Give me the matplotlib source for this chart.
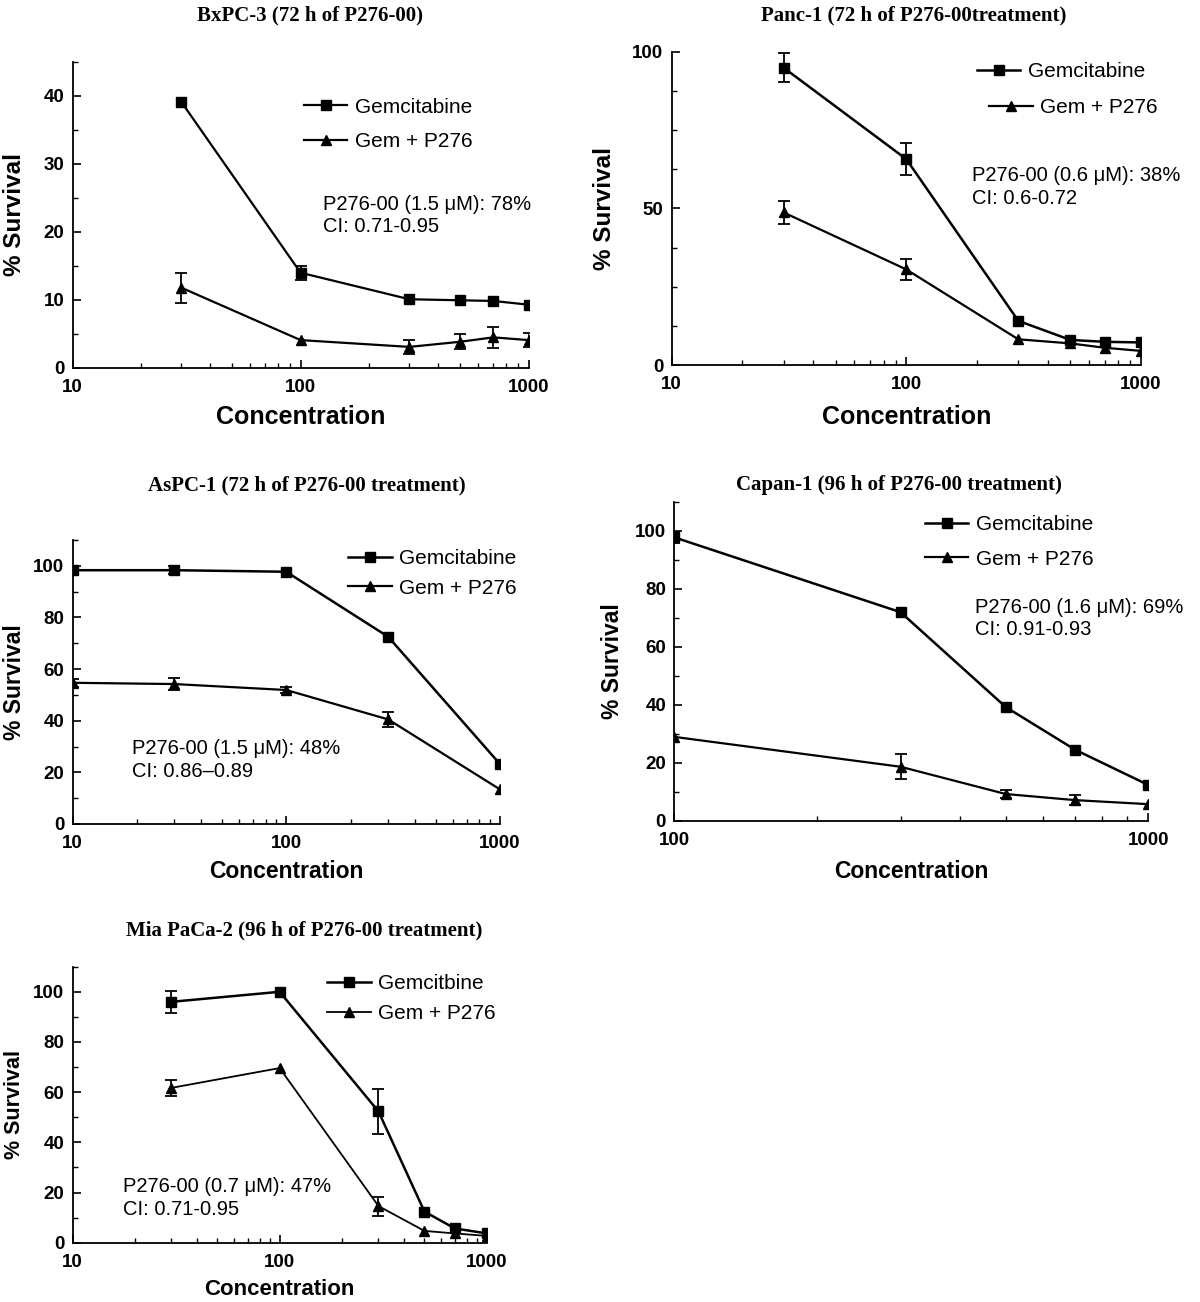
import numpy as np
import matplotlib
matplotlib.use("Agg")
import matplotlib.pyplot as plt
from matplotlib.ticker import FixedLocator, LogLocator, MultipleLocator, NullFormatter

plt.rcParams['font.family'] = ['Liberation Sans', 'DejaVu Sans']

# BxPC-3
bx_conc = [30, 100, 300, 500, 700, 1000]
bx_gem = [39.1, 14.0, 10.1, 9.95, 9.85, 9.3]
bx_gem_err = [0, 1.0, 0, 0, 0, 0]
bx_comb = [11.8, 4.1, 3.1, 3.85, 4.5, 4.1]
bx_comb_err = [2.2, 0, 1.05, 1.1, 1.55, 1.0]

# Panc-1
panc_conc = [30, 100, 300, 500, 700, 1000]
panc_gem = [94.9, 65.7, 14.1, 8.0, 7.4, 7.2]
panc_gem_err = [4.6, 5.0, 0, 0, 0, 0]
panc_comb = [48.7, 30.5, 8.2, 6.9, 5.5, 4.5]
panc_comb_err = [3.6, 3.4, 0, 0, 0, 0]

# AsPC-1
aspc_conc = [10, 30, 100, 300, 1000]
aspc_gem = [98.3, 98.3, 97.7, 72.5, 23.2]
aspc_gem_err = [1.5, 1.5, 0, 0, 0]
aspc_comb = [54.7, 54.2, 51.9, 40.5, 13.4]
aspc_comb_err = [1.5, 2.4, 1.0, 3.0, 0]

# Capan-1
capan_conc = [100, 300, 500, 700, 1000]
capan_gem = [97.7, 71.9, 39.2, 24.5, 12.3]
capan_gem_err = [2.0, 0, 0, 0, 0]
capan_comb = [28.9, 18.6, 9.2, 7.1, 5.7]
capan_comb_err = [0, 4.3, 1.5, 1.7, 0]

# Mia PaCa-2
mia_conc = [30, 100, 300, 500, 700, 1000]
mia_gem = [96.0, 100.0, 52.3, 12.4, 5.7, 3.7]
mia_gem_err = [4.3, 0, 9.0, 0, 0, 0]
mia_comb = [61.7, 69.6, 14.6, 4.7, 3.7, 2.7]
mia_comb_err = [3.3, 0, 3.8, 0, 0, 0]

titles = ["BxPC-3 (72 h of P276-00)",
          "Panc-1 (72 h of P276-00treatment)",
          "AsPC-1 (72 h of P276-00 treatment)",
          "Capan-1 (96 h of P276-00 treatment)",
          "Mia PaCa-2 (96 h of P276-00 treatment)"]
notes = ["P276-00 (1.5 \u03bcM): 78%\nCI: 0.71-0.95",
         "P276-00 (0.6 \u03bcM): 38%\nCI: 0.6-0.72",
         "P276-00 (1.5 \u03bcM): 48%\nCI: 0.86\u20130.89",
         "P276-00 (1.6 \u03bcM): 69%\nCI: 0.91-0.93",
         "P276-00 (0.7 \u03bcM): 47%\nCI: 0.71-0.95"]
gem_names = ["Gemcitabine", "Gemcitabine", "Gemcitabine", "Gemcitabine", "Gemcitbine"]
comb_name = "Gem + P276"

W, H = 1200, 1302
fig = plt.figure(figsize=(W / 100, H / 100), dpi=100)


def px_axes(left, right, top, bottom):
    return fig.add_axes([left / W, 1 - bottom / H, (right - left) / W, (bottom - top) / H])


def errs(conc, vals, err):
    conc, vals, err = np.array(conc), np.array(vals), np.array(err)
    m = err > 0
    return conc[m], vals[m], err[m]


def draw_panel(ax, p, gem_name):
    gem_line, = ax.plot(p['conc'], p['gem'], color='black', lw=p.get('gem_lw', 1.6),
                        marker='s', ms=7, label=gem_name)
    comb_line, = ax.plot(p['conc'], p['comb'], color='black', lw=p.get('comb_lw', 1.6),
                         marker='^', ms=7.5, label=comb_name)
    for c, v, e in (errs(p['conc'], p['gem'], p['gem_err']),
                    errs(p['conc'], p['comb'], p['comb_err'])):
        if len(c):
            ax.errorbar(c, v, yerr=e, fmt='none', ecolor='black', elinewidth=1.3,
                        capsize=4, capthick=1.3)
    xlim = p['xlim']
    ax.set_xscale('log')
    ax.set_xlim(*xlim)
    ax.set_ylim(*p['ylim'])
    majors = [t for t in (10, 100, 1000) if xlim[0] <= t <= xlim[1]]
    ax.xaxis.set_major_locator(FixedLocator(majors))
    ax.set_xticklabels([str(t) for t in majors])
    ax.xaxis.set_minor_locator(LogLocator(base=10, subs=np.arange(2, 10)))
    ax.xaxis.set_minor_formatter(NullFormatter())
    ax.yaxis.set_major_locator(FixedLocator(p['ymaj']))
    ax.yaxis.set_minor_locator(MultipleLocator(p['ymin_step']))
    ax.tick_params(axis='x', which='major', direction='in', length=6, width=1.2,
                   labelsize=13.5, pad=8)
    ax.tick_params(axis='y', which='major', direction='in', length=6, width=1.2,
                   labelsize=13.5, pad=6)
    ax.tick_params(axis='both', which='minor', direction='in', length=3.5, width=1.0)
    for lab in ax.get_xticklabels() + ax.get_yticklabels():
        lab.set_fontweight('bold')
    for s in ('top', 'right'):
        ax.spines[s].set_visible(False)
    for s in ('left', 'bottom'):
        ax.spines[s].set_linewidth(1.3)
    ax.set_xlabel('Concentration', fontsize=p['xl_size'], fontweight='bold')
    ax.xaxis.set_label_coords(0.5, p['xl_y'])
    ax.xaxis.label.set_va('center')
    ax.set_ylabel('% Survival', fontsize=p['yl_size'], fontweight='bold')
    ax.yaxis.set_label_coords(p['yl_x'], 0.5)
    ax.yaxis.label.set_va('center')

    leg_kw = dict(frameon=False, fontsize=15, borderpad=0, borderaxespad=0,
                  handlelength=2.1, handletextpad=0.35)
    lx, ly = p['leg_xy']
    if 'leg2_xy' in p:
        # second legend row sits a little to the right in this panel
        first = ax.legend([gem_line], [gem_name], loc='center left',
                          bbox_to_anchor=(lx, ly), **leg_kw)
        ax.add_artist(first)
        ax.legend([comb_line], [comb_name], loc='center left',
                  bbox_to_anchor=p['leg2_xy'], **leg_kw)
    else:
        ax.legend(loc='center left', bbox_to_anchor=(lx, ly),
                  labelspacing=p['leg_spacing'], **leg_kw)
    ax.text(p['note_xy'][0], p['note_xy'][1], p['note'], transform=ax.transAxes,
            ha='left', va='center', fontsize=14.5, linespacing=1.25)


panels = [
    dict(conc=bx_conc, gem=bx_gem, gem_err=bx_gem_err, comb=bx_comb, comb_err=bx_comb_err,
         box=(72.5, 528.6, 61.7, 368), xlim=(10, 1000), ylim=(0, 45),
         ymaj=[0, 10, 20, 30, 40], ymin_step=5, leg_xy=(0.507, 0.795), leg_spacing=0.75,
         note_xy=(0.549, 0.498), title_xy=(310, 15), xl_size=18, yl_size=17.5,
         xl_y=-0.159, yl_x=-0.128),
    dict(conc=panc_conc, gem=panc_gem, gem_err=panc_gem_err, comb=panc_comb, comb_err=panc_comb_err,
         box=(671.6, 1141, 51.7, 365), xlim=(10, 1000), ylim=(0, 100),
         ymaj=[0, 50, 100], ymin_step=12.5, leg_xy=(0.65, 0.937), leg2_xy=(0.676, 0.821),
         leg_spacing=0.75, note_xy=(0.639, 0.568), title_xy=(914, 15), xl_size=18,
         yl_size=17.5, xl_y=-0.165, yl_x=-0.142, gem_lw=1.8),
    dict(conc=aspc_conc, gem=aspc_gem, gem_err=aspc_gem_err, comb=aspc_comb, comb_err=aspc_comb_err,
         box=(72.5, 500, 540, 824), xlim=(10, 1000), ylim=(0, 110),
         ymaj=[0, 20, 40, 60, 80, 100], ymin_step=10, leg_xy=(0.644, 0.882), leg_spacing=0.5,
         note_xy=(0.139, 0.226), title_xy=(307, 485), xl_size=16.5, yl_size=16.5,
         xl_y=-0.168, yl_x=-0.136, gem_lw=1.8),
    dict(conc=capan_conc, gem=capan_gem, gem_err=capan_gem_err, comb=capan_comb, comb_err=capan_comb_err,
         box=(674.4, 1148.4, 501.7, 820.7), xlim=(100, 1000), ylim=(0, 110),
         ymaj=[0, 20, 40, 60, 80, 100], ymin_step=10, leg_xy=(0.528, 0.874), leg_spacing=0.75,
         note_xy=(0.635, 0.634), title_xy=(899, 485), xl_size=16.5, yl_size=16.5,
         xl_y=-0.16, yl_x=-0.13, gem_lw=1.8),
    dict(conc=mia_conc, gem=mia_gem, gem_err=mia_gem_err, comb=mia_comb, comb_err=mia_comb_err,
         box=(72.5, 486.8, 966.7, 1242.7), xlim=(10, 1000), ylim=(0, 110),
         ymaj=[0, 20, 40, 60, 80, 100], ymin_step=10, leg_xy=(0.614, 0.884), leg_spacing=0.55,
         note_xy=(0.122, 0.161), title_xy=(304, 930), xl_size=16, yl_size=15.5,
         xl_y=-0.171, yl_x=-0.14, gem_lw=1.8, comb_lw=1.3),
]

for i, p in enumerate(panels):
    p['note'] = notes[i]
    ax = px_axes(*p['box'])
    draw_panel(ax, p, gem_names[i])
    tx, ty = p['title_xy']
    fig.text(tx / W, 1 - ty / H, titles[i], ha='center', va='center', fontsize=15,
             fontweight='bold', family=['Liberation Serif', 'DejaVu Serif'])

fig.savefig('out.png', dpi=100)
